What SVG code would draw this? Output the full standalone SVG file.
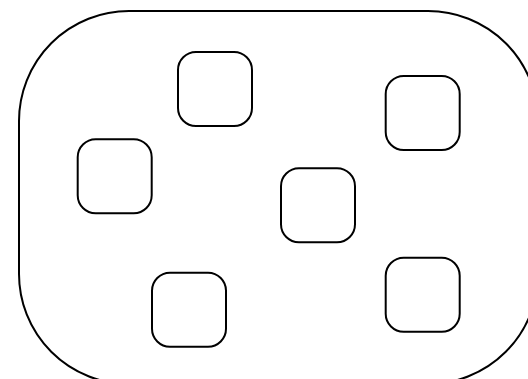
<svg xmlns="http://www.w3.org/2000/svg" width="528" height="379" viewBox="0 0 528 379">
<style>
.c{fill:#fff;stroke:#000;stroke-width:2}
.n{fill:#fff;stroke:#000;stroke-width:2}
</style>
<rect width="528" height="379" fill="#fff"/>
<g id="container"><rect class="c" x="19" y="11" width="519" height="373" rx="110" ry="110"/></g>
<g id="node1"><rect class="n" x="178" y="52" width="74" height="74" rx="18"/></g>
<g id="node2"><rect class="n" x="385.7" y="76" width="74" height="74" rx="18"/></g>
<g id="node3"><rect class="n" x="77.7" y="139.3" width="74" height="74" rx="18"/></g>
<g id="node4"><rect class="n" x="281" y="168.3" width="74" height="74" rx="18"/></g>
<g id="node5"><rect class="n" x="152" y="272.7" width="74" height="74" rx="18"/></g>
<g id="node6"><rect class="n" x="385.7" y="257.7" width="74" height="74" rx="18"/></g>
<g id="connectors"></g>
</svg>
